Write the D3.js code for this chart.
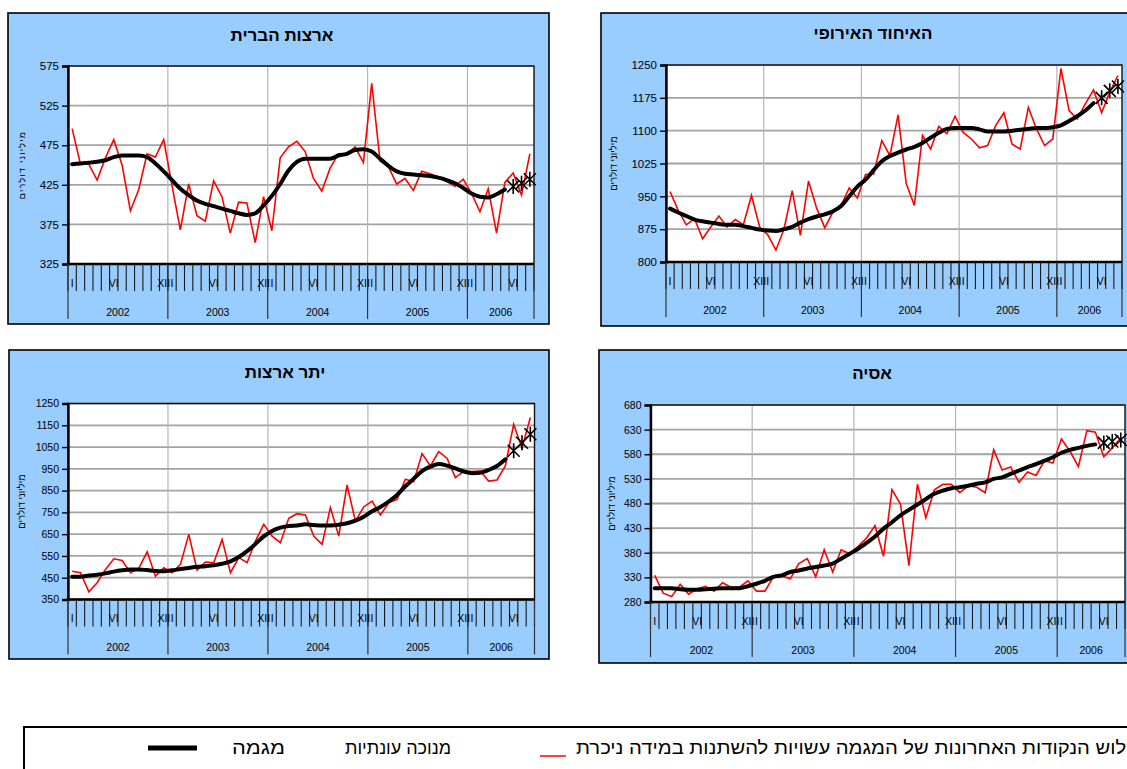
<!DOCTYPE html>
<html><head><meta charset="utf-8">
<script src="https://cdn.jsdelivr.net/npm/d3@7"></script>
<style>body{margin:0;background:#fff;overflow:hidden}svg{display:block}</style>
</head><body>
<svg id="c" width="1127" height="769"></svg>
<script>
// ---------- DATA ----------
const years = ["2002","2003","2004","2005","2006"];
const monthsPerYear = [12,12,12,12,8];
const monthLabels = {1:"I",6:"VI",12:"XII"};
const provisionalCount = 3; // last trend points drawn as markers

const usTicks = [325,375,425,475,525,575];
const usSeasonal = [496,451,451,431,459,482,450,392,419,464,460,482,424,368,426,386,379,430,410,364,403,402,352,410,367,459,473,480,467,433,417,446,464,463,473,453,553,455,448,426,433,418,442,439,435,429,423,432,414,391,420,364,428,440,412,464];
const usTrend = [451,452,453,454,456,460,462,462,462,460,452,442,431,420,412,405,401,398,395,392,389,387,389,399,411,426,443,454,458,458,458,458,462,464,469,470,467,458,449,442,439,438,437,436,434,431,427,421,414,410,409,413,419,423,427,432];

const euTicks = [800,875,950,1025,1100,1175,1250];
const euSeasonal = [961,918,885,899,853,880,905,880,897,885,952,880,862,827,876,963,861,985,923,878,914,929,969,946,1000,1001,1077,1043,1136,979,929,1089,1058,1110,1093,1133,1096,1081,1061,1066,1112,1141,1069,1058,1153,1104,1066,1081,1242,1146,1127,1161,1193,1141,1188,1226];
const euTrend = [922,913,905,897,893,890,887,885,885,882,878,874,872,871,875,880,890,898,904,909,916,928,950,972,988,1010,1030,1042,1050,1057,1063,1072,1084,1095,1104,1106,1106,1106,1103,1098,1098,1098,1100,1102,1104,1106,1106,1108,1112,1122,1133,1146,1163,1175,1191,1201];

const otherTicks = [350,450,550,650,750,850,950,1050,1150,1250];
const otherSeasonal = [480,473,385,427,488,537,529,473,493,569,457,496,473,511,649,485,522,519,626,473,542,519,618,695,641,611,723,744,738,641,603,772,641,876,710,775,802,738,794,810,902,891,1020,963,1029,999,910,937,937,940,894,899,963,1155,1045,1186];
const otherTrend = [454,455,460,464,470,478,484,488,488,485,481,480,484,490,495,500,503,507,514,525,545,572,605,640,665,680,688,690,695,692,690,690,693,700,712,730,755,775,800,830,870,905,940,960,972,965,952,938,930,932,945,963,994,1033,1070,1109];

const asiaTicks = [280,330,380,430,480,530,580,630,680];
const asiaSeasonal = [334,298,291,316,296,307,312,302,319,310,310,323,302,302,331,333,327,358,368,331,386,341,386,378,393,410,435,373,508,479,354,519,451,508,519,519,502,516,513,502,589,548,554,523,544,537,567,562,611,586,555,628,625,575,593,613];
const asiaTrend = [308,308,308,306,305,305,306,307,308,308,308,312,317,323,331,334,341,344,348,351,354,358,368,378,388,400,413,429,442,456,467,478,489,500,506,511,513,516,520,523,530,533,540,547,554,560,567,574,583,589,593,597,600,603,606,609];

const legendTrend = "מגמה";
const legendSeasonal = "מנוכה עונתיות";
const legendNote = "שלוש הנקודות האחרונות  של המגמה עשויות להשתנות במידה ניכרת";

// ---------- BUILD ----------
const categories = [];
years.forEach((yr,yi)=>{ for(let m=1;m<=monthsPerYear[yi];m++) categories.push({year:yr,m}); });

const FONT = '"Liberation Sans", Arial, "DejaVu Sans", sans-serif';
const svg = d3.select("#c");

const panels = [
  {title:"ארצות הברית", yLabel:"מיליוני דולרים", ticks:usTicks, seasonal:usSeasonal, trend:usTrend,
   box:[8,13,541,311], plot:[68,534,66,264], titleX:282, titleY:35, yLabX:22, tickFs:11.5, ls:1.2, ylFs:9},
  {title:"האיחוד האירופי", yLabel:"מיליוני דולרים", ticks:euTicks, seasonal:euSeasonal, trend:euTrend,
   box:[601,13,600,313], plot:[666,1122,65,262], titleX:873, titleY:33, yLabX:614, tickFs:11.5, ls:0, ylFs:9.5},
  {title:"יתר ארצות", yLabel:"מיליוני דולרים", ticks:otherTicks, seasonal:otherSeasonal, trend:otherTrend,
   box:[9,350,540,309], plot:[68,534.5,403.5,599.5], titleX:285, titleY:372, yLabX:22, tickFs:10.5, ls:0, ylFs:9.5},
  {title:"אסיה", yLabel:"מיליוני דולרים", ticks:asiaTicks, seasonal:asiaSeasonal, trend:asiaTrend,
   box:[599,350,600,313], plot:[650.5,1125,405,602], titleX:872, titleY:373, yLabX:612, tickFs:10.5, ls:0, ylFs:9.5}
];

function star(s){
  return `M${-s},${-s}L${s},${s}M${-s},${s}L${s},${-s}M0,${-s*1.25}L0,${s*1.25}`;
}

function drawPanel(p){
  const g = svg.append("g");
  const [bx,by,bw,bh] = p.box;
  const [l,r,t,b] = p.plot;
  g.append("rect").attr("x",bx).attr("y",by).attr("width",bw).attr("height",bh)
    .attr("fill","#99ccff").attr("stroke","#000").attr("stroke-width",1.6);

  const x = d3.scaleBand().domain(d3.range(categories.length)).range([l,r]).padding(0);
  const cx = i => x(i) + x.bandwidth()/2;
  const y = d3.scaleLinear().domain(d3.extent(p.ticks)).range([b,t]);

  g.append("rect").attr("x",l).attr("y",t).attr("width",r-l).attr("height",b-t).attr("fill","#fff");

  // horizontal gridlines
  g.selectAll(".hg").data(p.ticks).enter().append("line")
    .attr("x1",l).attr("x2",r).attr("y1",d=>y(d)).attr("y2",d=>y(d))
    .attr("stroke","#a3a3a3").attr("stroke-width",1.8);

  // year boundaries
  const yearStart = [];
  let acc = 0;
  monthsPerYear.forEach(n=>{ yearStart.push(acc); acc += n; });
  g.selectAll(".vg").data(yearStart.slice(1)).enter().append("line")
    .attr("x1",d=>x(d)).attr("x2",d=>x(d)).attr("y1",t).attr("y2",b)
    .attr("stroke","#b5b5b5").attr("stroke-width",1.2);

  // plot border
  g.append("rect").attr("x",l).attr("y",t).attr("width",r-l).attr("height",b-t)
    .attr("fill","none").attr("stroke","#111").attr("stroke-width",1.4);

  // y axis via d3
  const ya = g.append("g").attr("transform",`translate(${l},0)`)
    .call(d3.axisLeft(y).tickValues(p.ticks).tickSize(6).tickPadding(3).tickFormat(d3.format("d")));
  ya.select(".domain").attr("stroke","#000").attr("stroke-width",2.4);
  ya.selectAll(".tick line").attr("stroke","#000").attr("stroke-width",1.4);
  ya.selectAll(".tick text").attr("font-family",FONT).attr("font-size",p.tickFs).attr("fill","#000");

  // bottom axis line
  g.append("line").attr("x1",l-1).attr("x2",r).attr("y1",b).attr("y2",b).attr("stroke","#000").attr("stroke-width",2.4);

  // month tick lines (category boundaries)
  const bounds = d3.range(categories.length+1).map(i => i<categories.length ? x(i) : r);
  g.selectAll(".mt").data(bounds).enter().append("line")
    .attr("x1",d=>d).attr("x2",d=>d).attr("y1",b).attr("y2",b+27)
    .attr("stroke","#1a1a1a").attr("stroke-width",1.1);
  // year separators
  const ySep = yearStart.map(i=>x(i)).concat([r]);
  g.selectAll(".ys").data(ySep).enter().append("line")
    .attr("x1",d=>d).attr("x2",d=>d).attr("y1",b).attr("y2",b+55)
    .attr("stroke","#333").attr("stroke-width",1.2);

  // month labels
  g.selectAll(".ml").data(categories.map((c,i)=>({c,i})).filter(d=>monthLabels[d.c.m]))
    .enter().append("text")
    .attr("x",d=>cx(d.i)).attr("y",b+19).attr("dy","0.35em")
    .attr("text-anchor","middle").attr("font-family",FONT).attr("font-size",10.5).attr("fill","#000")
    .text(d=>monthLabels[d.c.m]);

  // year labels
  g.selectAll(".yl").data(years).enter().append("text")
    .attr("x",(d,i)=>(ySep[i]+ySep[i+1])/2).attr("y",b+48).attr("dy","0.35em")
    .attr("text-anchor","middle").attr("font-family",FONT).attr("font-size",10.5).attr("fill","#000")
    .text(d=>d);

  // seasonal adjusted line
  const line = d3.line().x((d,i)=>cx(i)).y(d=>y(d));
  g.append("path").datum(p.seasonal).attr("d",line)
    .attr("fill","none").attr("stroke","#ff0000").attr("stroke-width",1.6).attr("stroke-linejoin","miter");

  // trend line
  const nLine = p.trend.length - provisionalCount;
  const trendLine = d3.line().x(d=>cx(d.i)).y(d=>y(d.v)).curve(d3.curveMonotoneX);
  g.append("path").datum(p.trend.slice(0,nLine).map((v,i)=>({v,i}))).attr("d",trendLine)
    .attr("fill","none").attr("stroke","#000").attr("stroke-width",4).attr("stroke-linejoin","round").attr("stroke-linecap","round");

  // provisional markers
  g.selectAll(".mk").data(p.trend.slice(nLine).map((v,k)=>({v,i:nLine+k}))).enter().append("path")
    .attr("transform",d=>`translate(${cx(d.i)},${y(d.v)})`)
    .attr("d",star(6)).attr("fill","none").attr("stroke","#000").attr("stroke-width",1.6);

  // title
  g.append("text").attr("x",p.titleX).attr("y",p.titleY).attr("dy","0.35em")
    .attr("text-anchor","middle").attr("font-family",FONT).attr("font-weight","bold").attr("font-size",17)
    .attr("fill","#000").text(p.title);

  // y label
  g.append("text").attr("transform",`translate(${p.yLabX},${(t+b)/2}) rotate(-90)`)
    .attr("text-anchor","middle").attr("dy","0.35em").attr("font-family",FONT).attr("font-size",p.ylFs)
    .attr("letter-spacing",p.ls).attr("fill","#000").text(p.yLabel);
}

panels.forEach(drawPanel);

// ---------- LEGEND ----------
const LFONT = '"Liberation Sans Narrow", "Liberation Sans", Arial, sans-serif';
const lg = svg.append("g");
lg.append("rect").attr("x",24).attr("y",727).attr("width",1200).attr("height",100)
  .attr("fill","#fff").attr("stroke","#000").attr("stroke-width",2);
lg.append("line").attr("x1",148).attr("x2",197).attr("y1",748).attr("y2",748).attr("stroke","#000").attr("stroke-width",5);
lg.append("text").attr("x",232).attr("y",748).attr("dy","0.35em").attr("text-anchor","start")
  .attr("font-family",LFONT).attr("font-size",18).attr("textLength",53).attr("lengthAdjust","spacingAndGlyphs").text(legendTrend);
lg.append("text").attr("x",345).attr("y",748).attr("dy","0.35em").attr("text-anchor","start")
  .attr("font-family",LFONT).attr("font-size",18).attr("textLength",106).attr("lengthAdjust","spacingAndGlyphs").text(legendSeasonal);
lg.append("line").attr("x1",540).attr("x2",566).attr("y1",756).attr("y2",756).attr("stroke","#ff0000").attr("stroke-width",1.5);
lg.append("text").attr("x",576).attr("y",748).attr("dy","0.35em").attr("text-anchor","start")
  .attr("font-family",LFONT).attr("font-size",18).attr("textLength",565).attr("lengthAdjust","spacingAndGlyphs").text(legendNote);
</script>
</body></html>
